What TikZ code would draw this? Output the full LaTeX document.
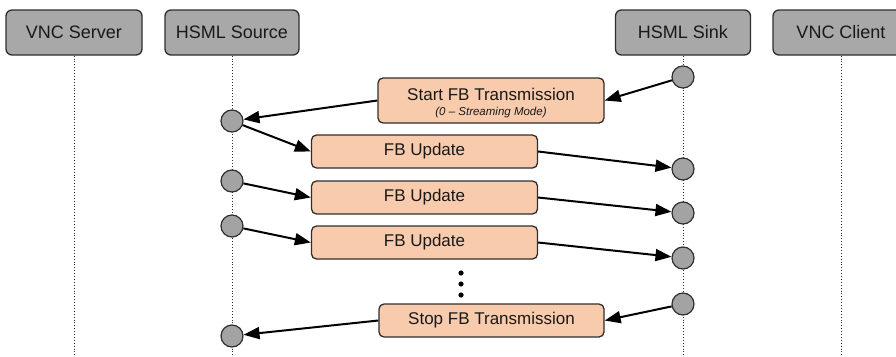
\documentclass[tikz,border=0pt]{standalone}
\usepackage{fontspec}
\setmainfont{Liberation Sans}
\usetikzlibrary{arrows.meta}
\definecolor{hdrgray}{HTML}{A8A8A8}
\definecolor{peach}{HTML}{F8CBAD}
\definecolor{dotgray}{HTML}{A3A3A3}
\definecolor{edge}{HTML}{2E2E2E}
\begin{document}
\begin{tikzpicture}[x=1pt,y=-1pt,
  header/.style={draw=edge,line width=1.3pt,fill=hdrgray,rounded corners=6pt,minimum width=136pt,minimum height=45pt,inner sep=0pt,font=\fontsize{18}{20}\selectfont,text=black!90},
  msg/.style={draw=edge,line width=1.3pt,fill=peach,rounded corners=5pt,minimum width=226pt,minimum height=33pt,inner sep=0pt,font=\fontsize{17}{19}\selectfont,text=black!90},
  dotc/.style={circle,draw=edge,line width=1.2pt,fill=dotgray,minimum size=22pt,inner sep=0pt},
  life/.style={draw=edge,line width=0.9pt,dotted},
  arr/.style={draw=black,line width=2pt,-{Triangle[length=16pt,width=12pt]}}
]
\useasboundingbox (0,0) rectangle (896,356);
% headers
\node[header] (vs) at (74,32.5) {VNC Server};
\node[header,minimum width=134pt] (hs) at (232,32.5) {HSML Source};
\node[header,minimum width=135pt] (hk) at (683,32.5) {HSML Sink};
\node[header,minimum width=136pt] (vc) at (841,32.5) {VNC Client};
% lifelines
\coordinate (vsb) at (74,356);
\coordinate (hsb) at (232,356);
\coordinate (hkb) at (683,356);
\coordinate (vcb) at (841,356);
\draw[life] (vs.south) -- (vsb);
\draw[life] (hs.south) -- (hsb);
\draw[life] (hk.south) -- (hkb);
\draw[life] (vc.south) -- (vcb);
% message boxes
\node[msg,minimum height=45pt] (start) at (491,100.5) {};
\node[font=\fontsize{17}{19}\selectfont,text=black!90] (startt) at (491,94) {Start FB Transmission};
\node[font=\fontsize{11.5}{13}\selectfont\itshape,text=black!90] (starts) at (491,113) {(0 -- Streaming Mode)};
\node[msg,minimum width=226pt] (u1) at (424.5,151.5) {FB Update};
\node[msg,minimum width=226pt] (u2) at (424.5,197.5) {FB Update};
\node[msg,minimum width=226pt] (u3) at (424.5,242.5) {FB Update};
\node[msg,minimum width=225pt] (stop) at (491.5,320.5) {Stop FB Transmission};
% dots
\fill (461,273) circle (2.6pt);
\fill (461,284) circle (2.6pt);
\fill (461,295) circle (2.6pt);
% circles
\node[dotc] (k0) at (683,77) {};
\node[dotc] (s1) at (232,121) {};
\node[dotc] (k1) at (683,169) {};
\node[dotc] (s2) at (232,181) {};
\node[dotc] (k2) at (683,213) {};
\node[dotc] (s3) at (232,226) {};
\node[dotc] (k3) at (683,258) {};
\node[dotc] (k4) at (683,304) {};
\node[dotc] (s4) at (232,336) {};
% arrows
\draw[arr] (k0) -- (start.east);
\draw[arr] (start.west) -- (s1);
\draw[arr] (s1) -- (u1.west);
\draw[arr] (u1.east) -- (k1);
\draw[arr] (s2) -- (u2.west);
\draw[arr] (u2.east) -- (k2);
\draw[arr] (s3) -- (u3.west);
\draw[arr] (u3.east) -- (k3);
\draw[arr] (k4) -- (stop.east);
\draw[arr] (stop.west) -- (s4);
\end{tikzpicture}
\end{document}
